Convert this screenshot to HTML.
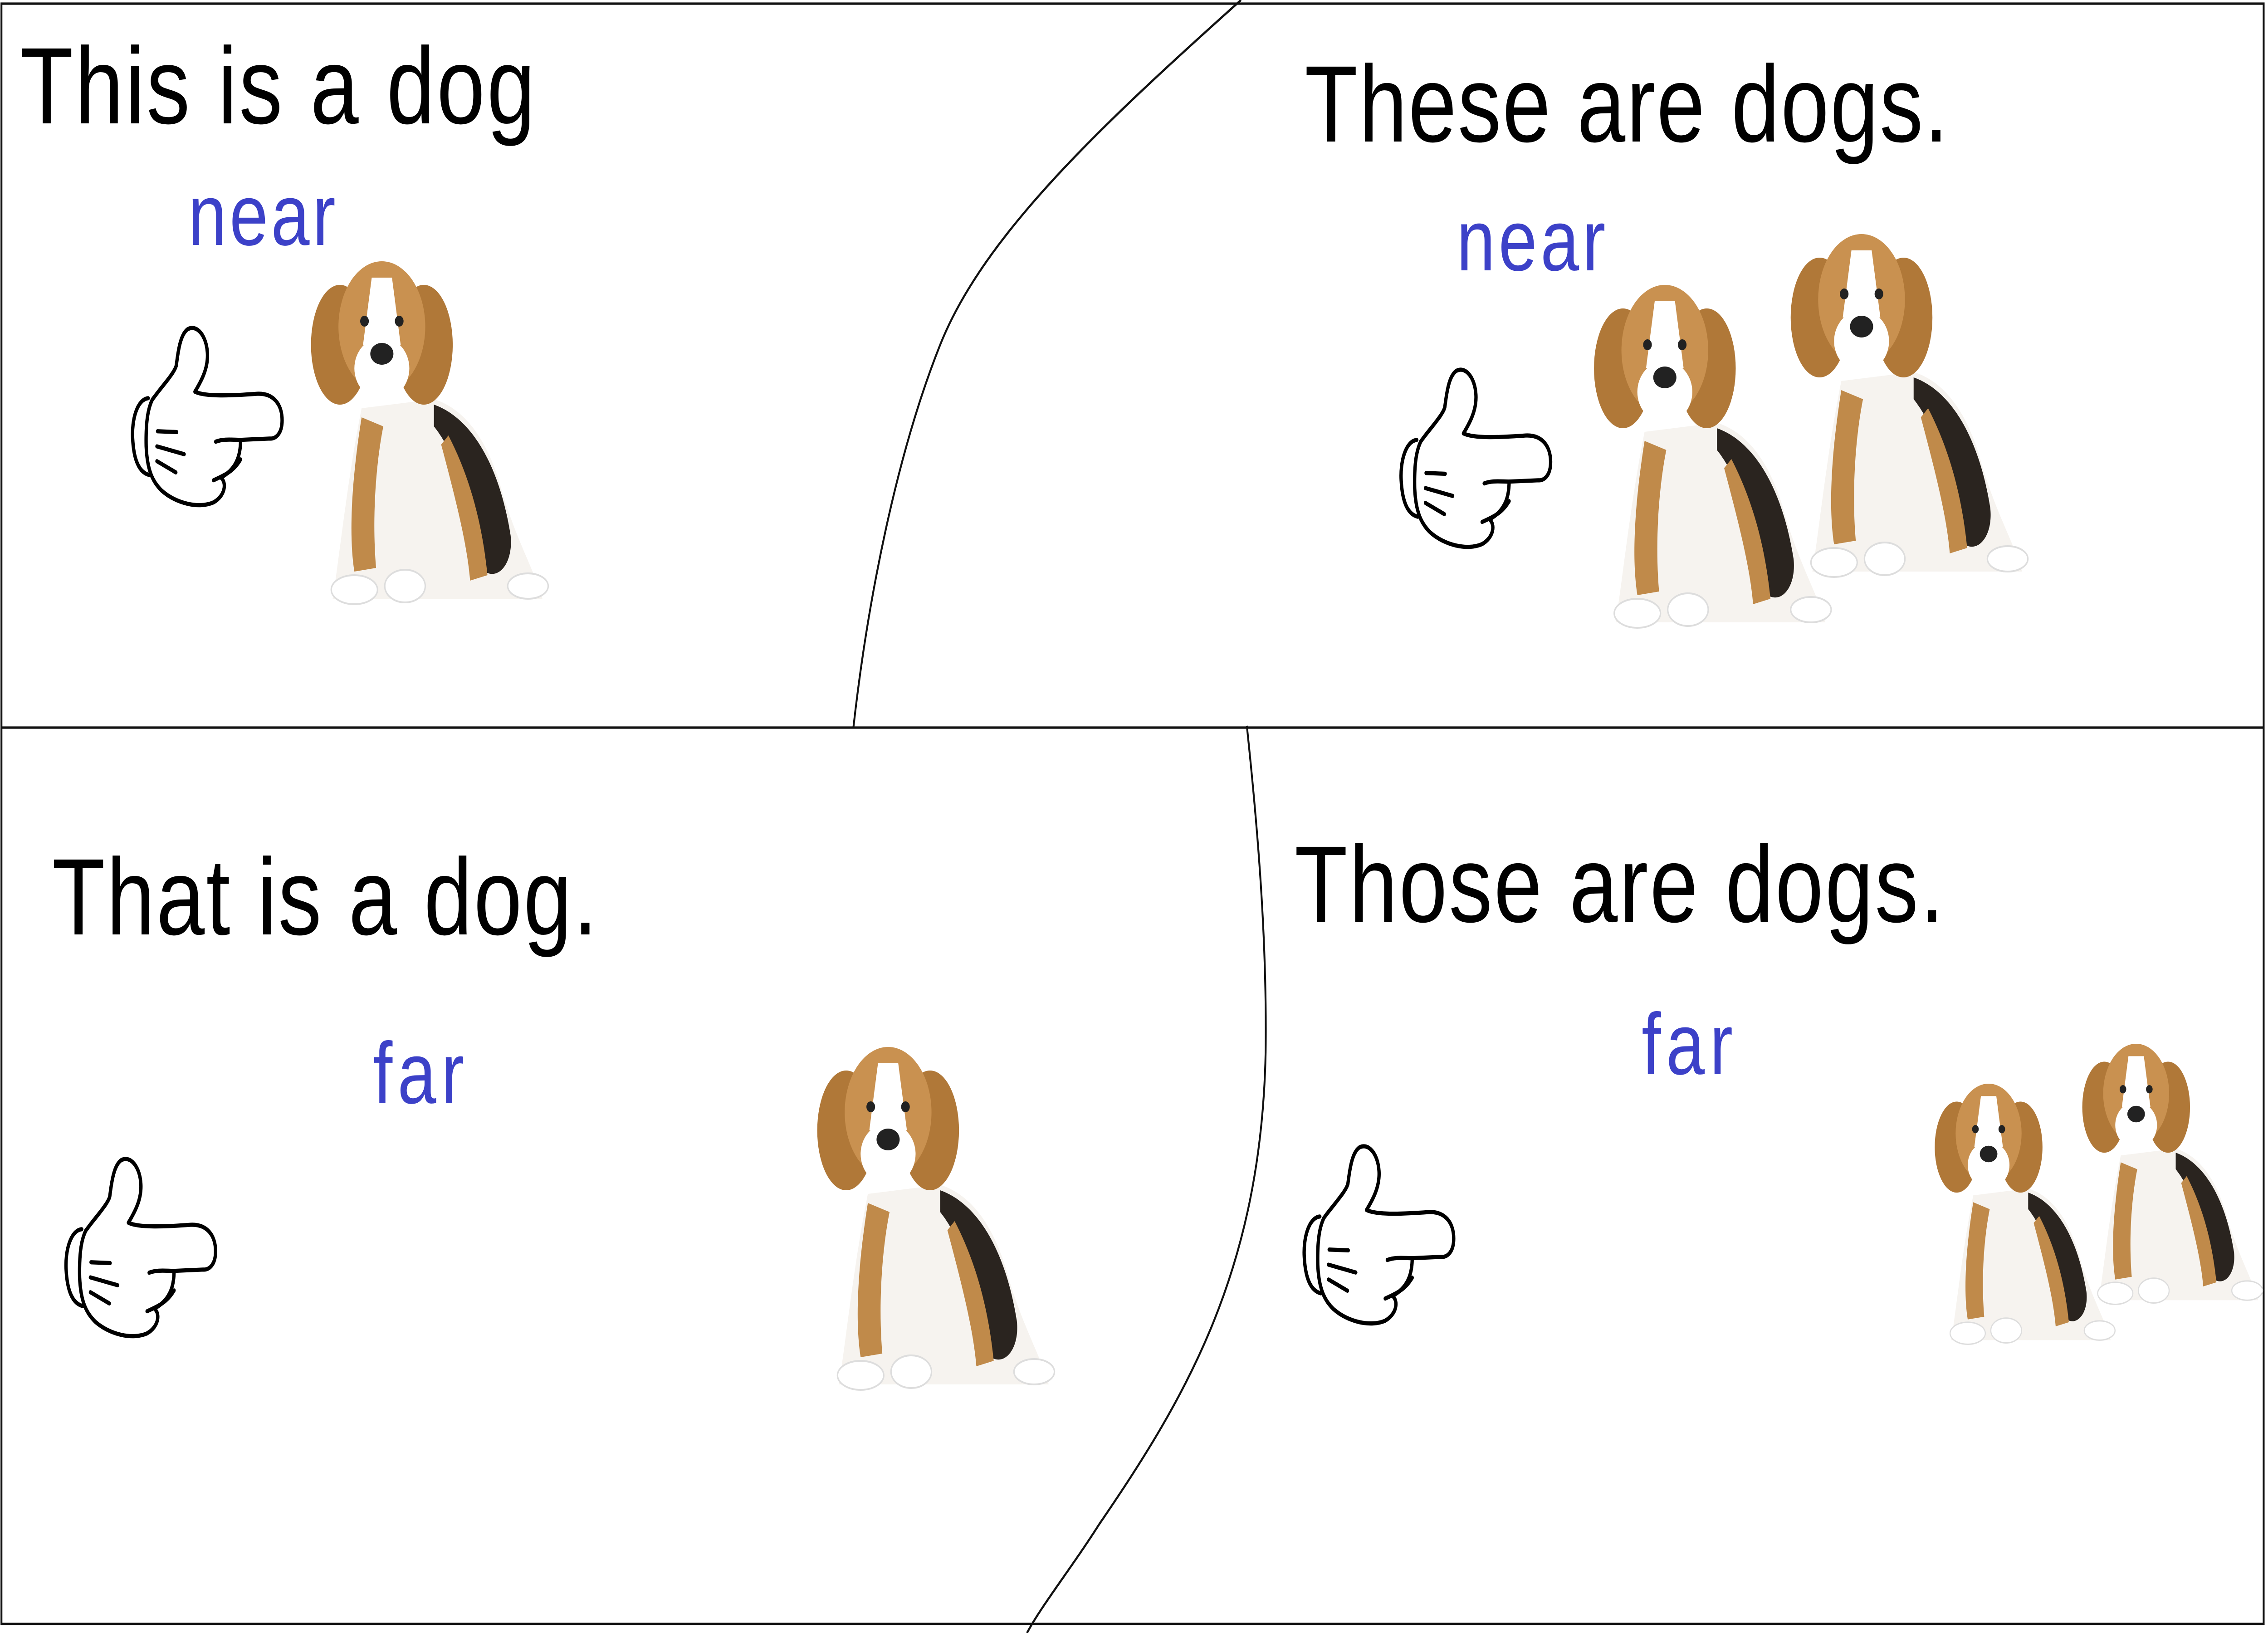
<!DOCTYPE html>
<html>
<head>
<meta charset="utf-8">
<style>
html,body{margin:0;padding:0;background:#fff;width:100%;height:100%;overflow:hidden;}
svg{display:block;width:100vw;height:100vh;}
text{font-family:"Liberation Sans",sans-serif;}
</style>
</head>
<body>
<svg viewBox="0 0 1568 900" preserveAspectRatio="none" xmlns="http://www.w3.org/2000/svg">
<defs>
  <g id="hand">
    <g transform="scale(0.1435) translate(-115,-140)" fill="#fff" stroke="#000" stroke-width="16" stroke-linecap="round" stroke-linejoin="round">
      <path d="M195,415 C140,420 115,500 120,570 C125,650 150,700 200,710"/>
      <path d="M215,420 C260,370 320,320 330,290 C340,230 350,170 385,150 C430,130 475,175 480,240 C485,300 450,350 420,390 C470,410 600,405 720,398 C800,395 840,440 840,500 C840,550 810,572 780,570 L640,575 C640,640 615,690 545,720 C575,740 565,790 510,815 C440,840 330,820 260,770 C215,735 190,690 185,600 C183,520 190,460 215,420 Z"/>
      <path d="M640,575 C600,575 560,570 520,582" fill="none"/>
      <path d="M640,650 C610,690 580,705 510,730" fill="none"/>
      <line x1="240" y1="542" x2="332" y2="545"/>
      <line x1="237" y1="600" x2="368" y2="630"/>
      <line x1="237" y1="657" x2="328" y2="700"/>
    </g>
  </g>
  <g id="dog">
    <path d="M45,80 C35,120 30,160 25,185 L170,185 C165,170 150,150 140,120 C130,95 115,80 95,75 Z" fill="#f6f3ef"/>
    <path d="M95,78 C120,85 140,110 148,150 C150,165 140,175 130,170 C120,130 110,105 95,90 Z" fill="#2a241f"/>
    <path d="M45,85 C38,120 36,150 40,170 L55,168 C52,140 55,110 60,90 Z" fill="#c08a4a"/>
    <path d="M100,100 C110,130 118,155 120,175 L132,172 C128,140 118,115 105,95 Z" fill="#c08a4a"/>
    <ellipse cx="30" cy="45" rx="20" ry="33" fill="#b07838"/>
    <ellipse cx="88" cy="45" rx="20" ry="33" fill="#b07838"/>
    <ellipse cx="59" cy="35" rx="30" ry="36" fill="#c99150"/>
    <path d="M52,8 L66,8 L72,45 L46,45 Z" fill="#fff"/>
    <ellipse cx="59" cy="58" rx="19" ry="17" fill="#fff"/>
    <ellipse cx="59" cy="50" rx="8" ry="6" fill="#222"/>
    <circle cx="47" cy="32" r="3" fill="#222"/>
    <circle cx="71" cy="32" r="3" fill="#222"/>
    <ellipse cx="40" cy="180" rx="16" ry="8" fill="#fff" stroke="#ddd" stroke-width="1"/>
    <ellipse cx="75" cy="178" rx="14" ry="9" fill="#fff" stroke="#ddd" stroke-width="1"/>
    <ellipse cx="160" cy="178" rx="14" ry="7" fill="#fff" stroke="#ddd" stroke-width="1"/>
  </g>
</defs>

<g fill="none" stroke="#111" stroke-width="1.3">
  <rect x="1" y="2" width="1564" height="893"/>
  <line x1="1" y1="401" x2="1565" y2="401"/>
  <path d="M858,0 C760,70 680,130 650,190 C620,250 600,330 590,401"/>
  <path d="M862,400 C870,460 876,520 875,580 C872,700 820,770 760,840 C740,865 720,885 710,900"/>
</g>

<g>
  <text x="14" y="68" font-size="60" textLength="356" fill="#000">This is a dog</text>
  <text x="130" y="135" font-size="48" textLength="102" fill="#3c41c8">near</text>
  <use href="#hand" x="91" y="180"/>
  <use href="#dog" x="205" y="145"/>
</g>

<g>
  <text x="902" y="78" font-size="60" textLength="445" fill="#000">These are dogs.</text>
  <text x="1007" y="149" font-size="48" textLength="103" fill="#3c41c8">near</text>
  <use href="#hand" x="968" y="203"/>
  <use href="#dog" x="1092" y="158"/>
  <use href="#dog" x="1228" y="130"/>
</g>

<g>
  <text x="36" y="515" font-size="60" textLength="377" fill="#000">That is a dog.</text>
  <text x="258" y="608" font-size="48" textLength="63" fill="#3c41c8">far</text>
  <use href="#hand" x="45" y="638"/>
  <use href="#dog" x="555" y="578"/>
</g>

<g>
  <text x="895" y="508" font-size="60" textLength="449" fill="#000">Those are dogs.</text>
  <text x="1135" y="592" font-size="48" textLength="63" fill="#3c41c8">far</text>
  <use href="#hand" x="901" y="631"/>
  <g transform="translate(1330,598) scale(0.76)"><use href="#dog"/></g>
  <g transform="translate(1432,576) scale(0.76)"><use href="#dog"/></g>
</g>
</svg>
</body>
</html>
